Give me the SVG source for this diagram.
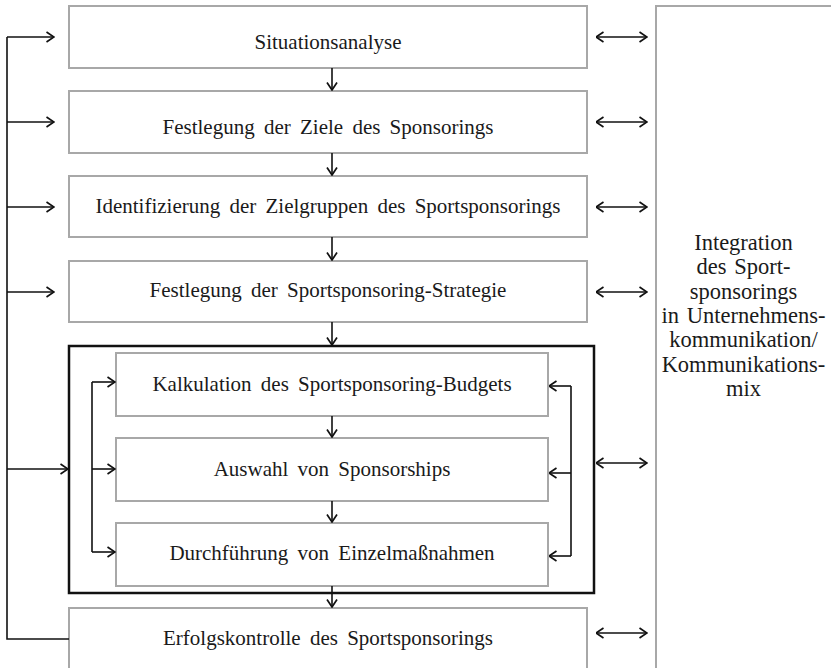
<svg xmlns="http://www.w3.org/2000/svg" width="831" height="668" viewBox="0 0 831 668">
<style>
.box{fill:#fff;stroke:#a8a8a8;stroke-width:2}
.frame{fill:none;stroke:#111;stroke-width:2.5}
.t{font-family:"Liberation Serif","Times New Roman",serif;font-size:21px;fill:#1a1a1a;text-anchor:middle;word-spacing:4px}
.r{font-size:22.5px;word-spacing:2px}
.c{fill:none;stroke:#111;stroke-width:1.6}
.a{marker-end:url(#ah)}
.b{marker-start:url(#ah);marker-end:url(#ah)}
</style>
<defs>
<marker id="ah" viewBox="0 0 9 12" refX="8.5" refY="6" markerWidth="9" markerHeight="12" markerUnits="userSpaceOnUse" orient="auto-start-reverse">
<path d="M1,1 L8.5,6 L1,11" fill="none" stroke="#111" stroke-width="1.7"/>
</marker>
</defs>
<rect width="831" height="668" fill="#fff"/>

<g id="integration">
<rect class="box" x="656" y="6" width="200" height="700"/>
<text class="t r" x="743.5" y="250">Integration</text>
<text class="t r" x="743.5" y="274">des Sport-</text>
<text class="t r" x="743.5" y="298.5">sponsorings</text>
<text class="t r" x="743.5" y="323">in Unternehmens-</text>
<text class="t r" x="743.5" y="347">kommunikation/</text>
<text class="t r" x="743.5" y="371.5">Kommunikations-</text>
<text class="t r" x="743.5" y="396">mix</text>
</g>

<g id="situationsanalyse">
<rect class="box" x="69" y="6" width="518" height="62"/>
<text class="t" x="328" y="49">Situationsanalyse</text>
</g>
<g id="ziele">
<rect class="box" x="69" y="91" width="518" height="62"/>
<text class="t" x="328" y="134">Festlegung der Ziele des Sponsorings</text>
</g>
<g id="zielgruppen">
<rect class="box" x="69" y="176" width="518" height="61"/>
<text class="t" x="328" y="213">Identifizierung der Zielgruppen des Sportsponsorings</text>
</g>
<g id="strategie">
<rect class="box" x="69" y="261" width="518" height="61"/>
<text class="t" x="328" y="297">Festlegung der Sportsponsoring-Strategie</text>
</g>
<g id="umsetzung">
<rect class="frame" x="69" y="346" width="525" height="247"/>
</g>
<g id="budget">
<rect class="box" x="116" y="353" width="432" height="63"/>
<text class="t" x="332" y="391">Kalkulation des Sportsponsoring-Budgets</text>
</g>
<g id="auswahl">
<rect class="box" x="116" y="438" width="432" height="63"/>
<text class="t" x="332" y="476">Auswahl von Sponsorships</text>
</g>
<g id="durchfuehrung">
<rect class="box" x="116" y="523" width="432" height="63"/>
<text class="t" x="332" y="560">Durchführung von Einzelmaßnahmen</text>
</g>
<g id="erfolgskontrolle">
<rect class="box" x="69" y="608" width="518" height="100"/>
<text class="t" x="328" y="645">Erfolgskontrolle des Sportsponsorings</text>
</g>

<g id="connectors">
<line class="c a" x1="332" y1="68" x2="332" y2="90"/>
<line class="c a" x1="332" y1="153" x2="332" y2="175"/>
<line class="c a" x1="332" y1="237" x2="332" y2="260"/>
<line class="c a" x1="332" y1="322" x2="332" y2="345"/>
<line class="c a" x1="332" y1="416" x2="332" y2="437"/>
<line class="c a" x1="332" y1="501" x2="332" y2="522"/>
<line class="c a" x1="332" y1="586" x2="332" y2="607"/>
<polyline class="c" points="69,639 7,639 7,37"/>
<line class="c a" x1="7" y1="37" x2="54" y2="37"/>
<line class="c a" x1="7" y1="122" x2="54" y2="122"/>
<line class="c a" x1="7" y1="207" x2="54" y2="207"/>
<line class="c a" x1="7" y1="292" x2="54" y2="292"/>
<line class="c a" x1="7" y1="469" x2="68" y2="469"/>
<line class="c" x1="92" y1="382" x2="92" y2="552"/>
<line class="c a" x1="92" y1="382" x2="115" y2="382"/>
<line class="c a" x1="92" y1="469" x2="115" y2="469"/>
<line class="c a" x1="92" y1="552" x2="115" y2="552"/>
<line class="c" x1="571" y1="386" x2="571" y2="556"/>
<line class="c a" x1="571" y1="386" x2="549" y2="386"/>
<line class="c a" x1="571" y1="473" x2="549" y2="473"/>
<line class="c a" x1="571" y1="556" x2="549" y2="556"/>
<line class="c b" x1="596" y1="37" x2="647" y2="37"/>
<line class="c b" x1="596" y1="122" x2="647" y2="122"/>
<line class="c b" x1="596" y1="207" x2="647" y2="207"/>
<line class="c b" x1="596" y1="292" x2="647" y2="292"/>
<line class="c b" x1="596" y1="463" x2="647" y2="463"/>
<line class="c b" x1="596" y1="633" x2="647" y2="633"/>
</g>
</svg>
